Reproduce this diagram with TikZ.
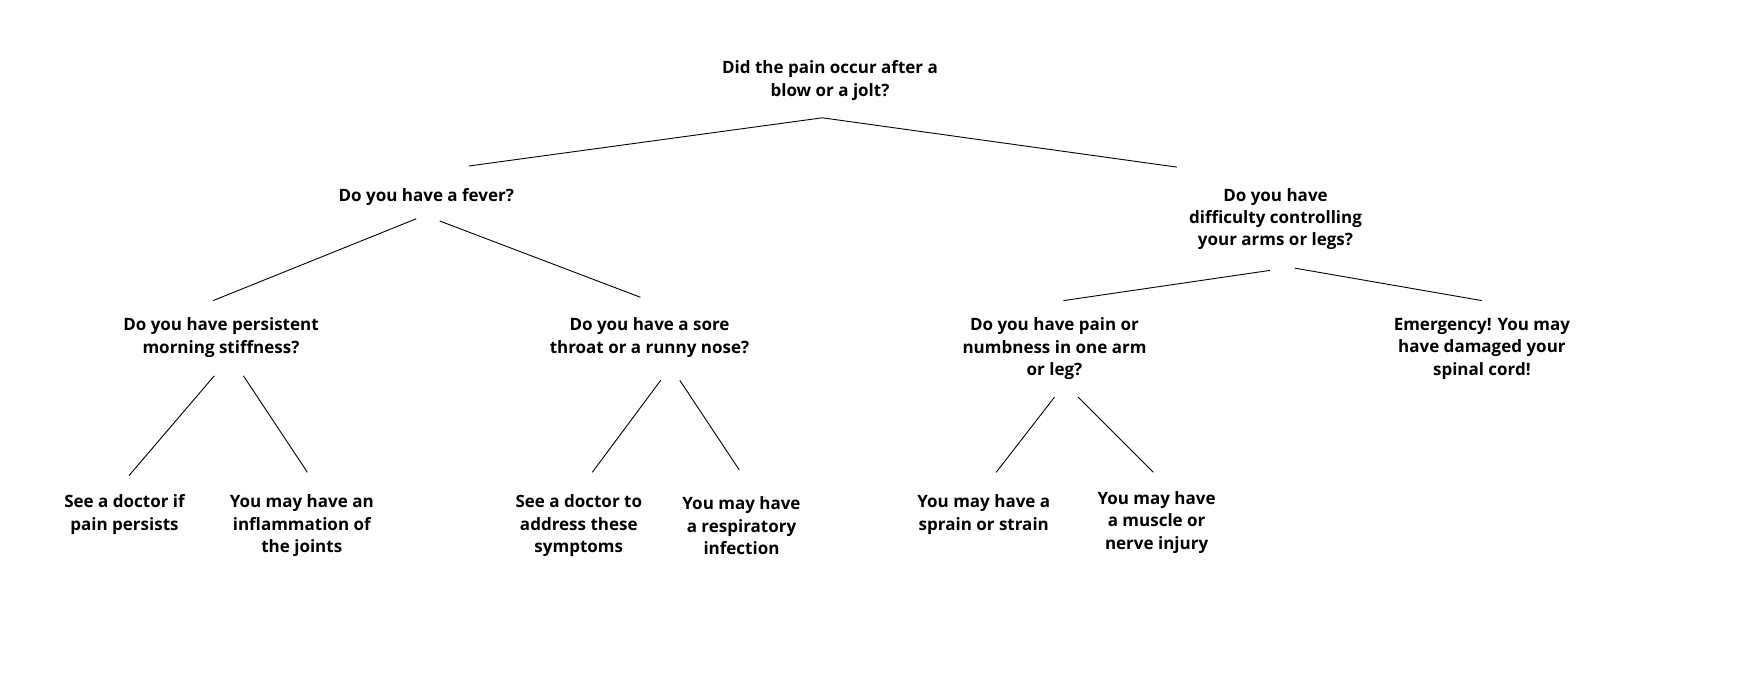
\documentclass[tikz,border=0pt]{standalone}
\usepackage{fontspec}
\setmainfont{Open Sans}
\begin{document}
\begin{tikzpicture}[x=1pt,y=-1pt,
  lab/.style={align=center,inner sep=0pt,font=\fontsize{17}{22.4}\selectfont\bfseries,text=black},
  edge/.style={line width=0.9pt,draw=black}]
\useasboundingbox (0,0) rectangle (1759,685);
% nodes
\node[lab] (root) at (830,80.5) {Did the pain occur after a\\blow or a jolt?};
\node[lab] (fever) at (426.3,197.2) {Do you have a fever?};
\node[lab] (diff) at (1275.5,219) {Do you have\\difficulty controlling\\your arms or legs?};
\node[lab] (persist) at (221,337.4) {Do you have persistent\\morning stiffness?};
\node[lab] (sore) at (649.5,337.4) {Do you have a sore\\throat or a runny nose?};
\node[lab] (pain) at (1054.5,348.6) {Do you have pain or\\numbness in one arm\\or leg?};
\node[lab] (emerg) at (1481.9,348.6) {Emergency! You may\\have damaged your\\spinal cord!};
\node[lab] (see1) at (124.5,514.7) {See a doctor if\\pain persists};
\node[lab] (inflam) at (301.8,525.9) {You may have an\\inflammation of\\the joints};
\node[lab] (see2) at (578.8,525.9) {See a doctor to\\address these\\symptoms};
\node[lab] (resp) at (741.5,525.9) {You may have\\a respiratory\\infection};
\node[lab] (sprain) at (983.8,514.7) {You may have a\\sprain or strain};
\node[lab] (muscle) at (1156.6,522.5) {You may have\\a muscle or\\nerve injury};
% connector end points
\coordinate (root-b) at (822.3,117.8);
\coordinate (fever-t) at (468.9,166.0);
\coordinate (diff-t) at (1176.8,167.1);
\coordinate (fever-bl) at (416.2,218.8);
\coordinate (fever-br) at (439.7,221);
\coordinate (persist-t) at (213.1,300.6);
\coordinate (sore-t) at (640.5,297.3);
\coordinate (diff-bl) at (1269.9,270.4);
\coordinate (diff-br) at (1294.6,268.1);
\coordinate (pain-t) at (1063.5,300.6);
\coordinate (emerg-t) at (1481.9,300.6);
\coordinate (persist-bl) at (214.3,375.8);
\coordinate (persist-br) at (243.4,375.8);
\coordinate (see1-t) at (129,475.6);
\coordinate (inflam-t) at (307.4,472.3);
\coordinate (sore-bl) at (660.7,380.3);
\coordinate (sore-br) at (679.8,380.3);
\coordinate (see2-t) at (592.3,472.3);
\coordinate (resp-t) at (739.3,470);
\coordinate (pain-bl) at (1054.5,397.1);
\coordinate (pain-br) at (1078,397.1);
\coordinate (sprain-t) at (996.2,472.3);
\coordinate (muscle-t) at (1153.2,472.3);
% connectors
\draw[edge] (fever-t) -- (root-b) -- (diff-t);
\draw[edge] (fever-bl) -- (persist-t);
\draw[edge] (fever-br) -- (sore-t);
\draw[edge] (diff-bl) -- (pain-t);
\draw[edge] (diff-br) -- (emerg-t);
\draw[edge] (persist-bl) -- (see1-t);
\draw[edge] (persist-br) -- (inflam-t);
\draw[edge] (sore-bl) -- (see2-t);
\draw[edge] (sore-br) -- (resp-t);
\draw[edge] (pain-bl) -- (sprain-t);
\draw[edge] (pain-br) -- (muscle-t);
\end{tikzpicture}
\end{document}
